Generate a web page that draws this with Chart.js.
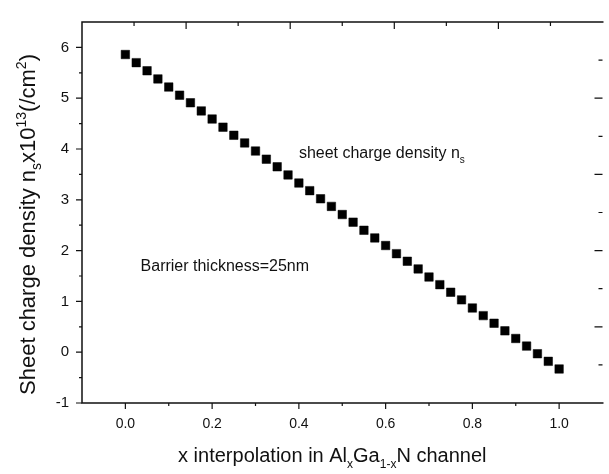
<!DOCTYPE html>
<html>
<head>
<meta charset="utf-8">
<script src="https://cdn.jsdelivr.net/npm/chart.js@4"></script>
<style>
  html, body { margin: 0; padding: 0; background: #ffffff; }
  #wrap { width: 609px; height: 474px; }
</style>
</head>
<body>
<div id="wrap"><canvas id="chartNs" width="609" height="474"></canvas></div>
<script>
const xValues = [0, 0.025, 0.05, 0.075, 0.1, 0.125, 0.15, 0.175, 0.2, 0.225,
  0.25, 0.275, 0.3, 0.325, 0.35, 0.375, 0.4, 0.425, 0.45, 0.475,
  0.5, 0.525, 0.55, 0.575, 0.6, 0.625, 0.65, 0.675, 0.7, 0.725,
  0.75, 0.775, 0.8, 0.825, 0.85, 0.875, 0.9, 0.925, 0.95, 0.975, 1.0];
const nsValues = [5.86, 5.70, 5.54, 5.38, 5.22, 5.06, 4.91, 4.75, 4.59, 4.43,
  4.27, 4.12, 3.96, 3.80, 3.65, 3.49, 3.33, 3.18, 3.02, 2.87,
  2.71, 2.56, 2.40, 2.25, 2.10, 1.94, 1.79, 1.64, 1.48, 1.33,
  1.18, 1.03, 0.87, 0.72, 0.57, 0.42, 0.27, 0.12, -0.03, -0.18, -0.33];

const xTickLabels = [0, 0.2, 0.4, 0.6, 0.8, 1.0];
const xMinorTicks = [0.1, 0.3, 0.5, 0.7, 0.9];
const yTickLabels = [-1, 0, 1, 2, 3, 4, 5, 6];
const yMinorTicks = [-0.5, 0.5, 1.5, 2.5, 3.5, 4.5, 5.5];
const topTicks = [1, 2, 3, 4, 5, 6, 7, 8, 9];
const rightTicks = [1, 2, 3, 4, 5, 6, 7, 8, 9];

const FONT = '"Liberation Sans", Arial, sans-serif';
const INK = '#111111';

// text pieces: [text, '' | 'sub' | 'sup']
const xTitle = [['x interpolation in Al', ''], ['x', 'sub'], ['Ga', ''], ['1-x', 'sub'], ['N channel', '']];
const yTitle = [['Sheet charge density n', ''], ['s', 'sub'], ['x10', ''], ['13', 'sup'], ['(/cm', ''], ['2', 'sup'], [')', '']];
const note1 = [['sheet charge density n', ''], ['s', 'sub']];
const note2 = [['Barrier thickness=25nm', '']];

function drawRich(ctx, parts, x, y, size, align) {
  const fontFor = m => (m ? Math.round(size * 0.62) : size) + 'px ' + FONT;
  let total = 0;
  parts.forEach(([t, m]) => { ctx.font = fontFor(m); total += ctx.measureText(t).width; });
  let cx = align === 'center' ? x - total / 2 : x;
  ctx.textAlign = 'left';
  ctx.textBaseline = 'alphabetic';
  parts.forEach(([t, m]) => {
    ctx.font = fontFor(m);
    const dy = m === 'sub' ? size * 0.28 : (m === 'sup' ? -size * 0.42 : 0);
    ctx.fillText(t, cx, y + dy);
    cx += ctx.measureText(t).width;
  });
}

const frameAndText = {
  id: 'frameAndText',
  afterDraw(chart) {
    const ctx = chart.ctx;
    const a = chart.chartArea;
    const sx = chart.scales.x, sy = chart.scales.y;
    const sx2 = chart.scales.x2, sy2 = chart.scales.y2;
    ctx.save();
    ctx.strokeStyle = INK;
    ctx.lineWidth = 1.5;
    // right edge of the frame falls just outside the picture
    ctx.beginPath();
    ctx.moveTo(a.right + 1, a.top);
    ctx.lineTo(a.left, a.top);
    ctx.lineTo(a.left, a.bottom);
    ctx.lineTo(a.right + 1, a.bottom);
    ctx.stroke();

    ctx.lineWidth = 1.2;
    ctx.beginPath();
    xTickLabels.forEach(v => { const p = sx.getPixelForValue(v); ctx.moveTo(p, a.bottom); ctx.lineTo(p, a.bottom + 6); });
    xMinorTicks.forEach(v => { const p = sx.getPixelForValue(v); ctx.moveTo(p, a.bottom); ctx.lineTo(p, a.bottom + 3); });
    yTickLabels.forEach(v => { const p = sy.getPixelForValue(v); ctx.moveTo(a.left, p); ctx.lineTo(a.left - 6, p); });
    yMinorTicks.forEach(v => { const p = sy.getPixelForValue(v); ctx.moveTo(a.left, p); ctx.lineTo(a.left - 3, p); });
    topTicks.forEach(v => {
      const p = sx2.getPixelForValue(v);
      ctx.moveTo(p, a.top); ctx.lineTo(p, a.top + (v % 2 === 0 ? 7 : 4));
    });
    rightTicks.forEach(v => {
      const p = sy2.getPixelForValue(v);
      ctx.moveTo(a.right, p); ctx.lineTo(a.right - (v % 2 === 0 ? 8 : 4), p);
    });
    ctx.stroke();

    ctx.fillStyle = INK;
    drawRich(ctx, xTitle, (a.left + a.right) / 2 - 10, 462, 20, 'center');
    ctx.save();
    ctx.translate(35, (a.top + a.bottom) / 2 + 12);
    ctx.rotate(-Math.PI / 2);
    drawRich(ctx, yTitle, 0, 0, 22, 'center');
    ctx.restore();

    drawRich(ctx, note1, sx.getPixelForValue(0.40), sy.getPixelForValue(3.82), 16, 'left');
    drawRich(ctx, note2, sx.getPixelForValue(0.035), sy.getPixelForValue(1.6), 16, 'left');
    ctx.restore();
  }
};

const points = xValues.map((x, i) => ({ x: x, y: nsValues[i] }));

new Chart(document.getElementById('chartNs'), {
  type: 'scatter',
  data: {
    datasets: [{
      label: 'sheet charge density ns',
      data: points,
      xAxisID: 'x',
      yAxisID: 'y',
      pointStyle: 'rect',
      pointRadius: 6,
      pointBorderWidth: 0.5,
      backgroundColor: '#000000',
      borderColor: '#000000',
      showLine: false
    }]
  },
  options: {
    responsive: false,
    animation: false,
    devicePixelRatio: 1,
    layout: { padding: { top: 13, right: 0, left: 0, bottom: 0 } },
    plugins: { legend: { display: false }, tooltip: { enabled: false } },
    scales: {
      x: {
        type: 'linear', position: 'bottom', min: -0.1, max: 1.1,
        afterBuildTicks: s => { s.ticks = xTickLabels.map(v => ({ value: v })); },
        afterFit: s => { s.height = 71; },
        grid: { display: false, drawTicks: false },
        border: { display: false },
        ticks: { padding: 13, color: INK, font: { family: FONT, size: 14 }, callback: v => Number(v).toFixed(1) }
      },
      y: {
        type: 'linear', position: 'left', min: -1, max: 6.5,
        afterBuildTicks: s => { s.ticks = yTickLabels.map(v => ({ value: v })); },
        afterFit: s => { s.width = 82; },
        grid: { display: false, drawTicks: false },
        border: { display: false },
        ticks: { padding: 13, color: INK, font: { family: FONT, size: 15 }, callback: v => String(v) }
      },
      x2: { type: 'linear', position: 'top', min: 0, max: 10, display: false },
      y2: { type: 'linear', position: 'right', min: 0, max: 10, display: false }
    }
  },
  plugins: [frameAndText]
});
</script>
</body>
</html>
